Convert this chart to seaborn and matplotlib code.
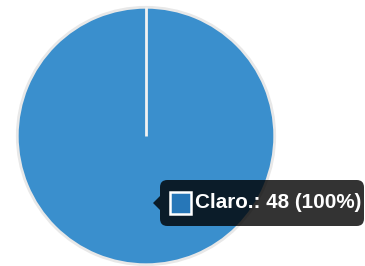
import numpy as np
import seaborn as sns
import matplotlib.pyplot as plt
from matplotlib.patches import FancyBboxPatch, Polygon, Rectangle

# data
categories = ["Claro."]
values = [48]
colors = ["#3a8fcd"]

sns.set_theme(style="white")
plt.rcParams['font.family'] = ['Liberation Sans', 'DejaVu Sans']

W, H = 365, 266
fig = plt.figure(figsize=(W / 100, H / 100), dpi=100)
fig.patch.set_facecolor("white")

# pie area: centre ~ (146, 136) px, radius ~130 px
cx, cy, r = 146, 136, 130
ax = fig.add_axes([(cx - r) / W, (H - cy - r) / H, 2 * r / W, 2 * r / H])
wedges, _ = ax.pie(values, colors=colors, startangle=90, counterclock=False,
                   wedgeprops=dict(edgecolor="#e8e8e8", linewidth=2))
# slice boundary (a full 360 deg wedge is drawn without its radial edge)
for w in wedges:
    t = np.deg2rad(w.theta2)
    ax.plot([w.center[0], w.center[0] + w.r * np.cos(t)],
            [w.center[1], w.center[1] + w.r * np.sin(t)],
            color="#f2f2f2", lw=2, solid_capstyle="butt")
ax.set_xlim(-1.01, 1.01)
ax.set_ylim(-1.01, 1.01)
ax.set_aspect("equal")
ax.axis("off")


# tooltip (pixel coords from top-left)
def px(x, y):
    return x / W, (H - y) / H


tt = fig.transFigure
x0, y0, x1, y1 = 160, 180, 364, 226
box = FancyBboxPatch(px(x0, y1), (x1 - x0) / W, (y1 - y0) / H,
                     boxstyle="round,pad=0,rounding_size=0.02",
                     transform=tt, facecolor="black", alpha=0.8,
                     edgecolor="none", mutation_aspect=W / H)
fig.patches.append(box)
tri = Polygon([px(160, 196), px(153, 203), px(160, 210)], closed=True,
              transform=tt, facecolor="black", alpha=0.8, edgecolor="none")
fig.patches.append(tri)
sq = Rectangle(px(170, 214), 21 / W, 22 / H, transform=tt,
               facecolor="#2777b8", edgecolor="white", linewidth=1.8)
fig.patches.append(sq)

total = sum(values)
label = f"{categories[0]}: {values[0]} ({values[0] / total * 100:.0f}%)"
fig.text(*px(195, 203), label, color="white", fontsize=14.9,
         fontweight="bold", va="center", ha="left")

fig.savefig("out.png", dpi=100)
